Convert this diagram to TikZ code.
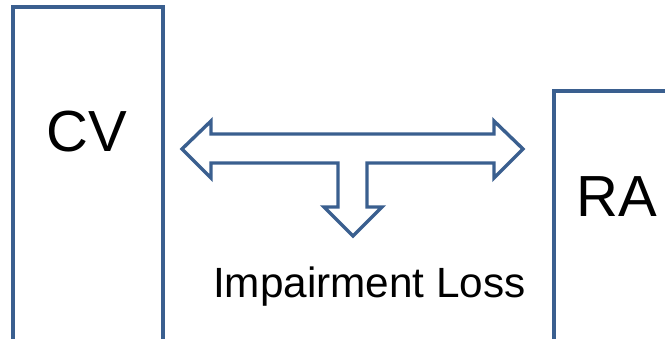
\documentclass[tikz,border=0pt]{standalone}
\usepackage{fontspec}
\setmainfont{Liberation Sans}
\definecolor{edgeblue}{HTML}{3A5F8F}
\begin{document}
\begin{tikzpicture}[x=1pt,y=-1pt,
  panel/.style={draw=edgeblue,line width=3.2pt,fill=white,inner sep=0pt,rectangle},
  bigtext/.style={inner sep=0pt,anchor=base,font=\fontsize{58}{68}\selectfont},
  captext/.style={inner sep=0pt,anchor=base,font=\fontsize{42.3}{50}\selectfont},
  blockarrow/.style={draw=edgeblue,line width=3.4pt,line join=miter,fill=white}]
\useasboundingbox (0,0) rectangle (665,339);
\clip (0,0) rectangle (665,339);
% value boxes, both running past the lower edge
\node[panel,minimum width=150pt,minimum height=338pt] (cv) at (88,176) {};
\node[panel,minimum width=146pt,minimum height=254pt] (ra) at (627,218) {};
\node[bigtext] (cvlabel) at (87,152) {CV};
\node[bigtext] (ralabel) at (616.5,217) {RA};
% double-headed block arrow with a downward branch
\coordinate (ltip) at (182,149);
\coordinate (rtip) at (523,149);
\coordinate (dtip) at (353,236);
\draw[blockarrow] (ltip) -- (211,121) -- (211,134) -- (494,134) -- (494,121)
  -- (rtip) -- (494,178) -- (494,163) -- (367,163) -- (367,207) -- (382,207)
  -- (dtip) -- (324,207) -- (338,207) -- (338,163) -- (211,163) -- (211,178) -- cycle;
\node[captext] (loss) at (369.5,298) {Impairment Loss};
\end{tikzpicture}
\end{document}
